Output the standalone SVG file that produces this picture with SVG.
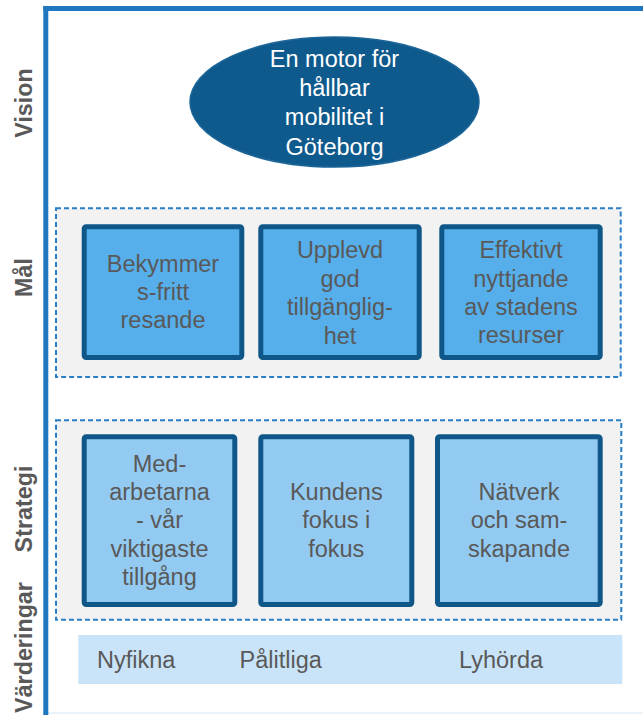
<svg xmlns="http://www.w3.org/2000/svg" width="643" height="715" viewBox="0 0 643 715">
<style>
.lbl{font-family:"Liberation Sans",Arial,sans-serif;font-weight:bold;font-size:23.3px;fill:#595959;text-anchor:middle}
.t{font-family:"Liberation Sans",Arial,sans-serif;font-size:23.5px;fill:#595959;text-anchor:middle}
.v{font-family:"Liberation Sans",Arial,sans-serif;font-size:23.5px;fill:#FFFFFF;text-anchor:middle}
.val{font-family:"Liberation Sans",Arial,sans-serif;font-size:23.5px;fill:#595959}
.dash{fill:#F2F2F2;stroke:#2A7FC4;stroke-width:2;stroke-dasharray:5 3}
.goal{fill:#56AFEB;stroke:#0E5788;stroke-width:5}
.strat{fill:#93CAF2;stroke:#0E5788;stroke-width:5}
</style>
<rect width="643" height="715" fill="#FFFFFF"/>
<g id="frame">
<line x1="48" y1="713" x2="643" y2="713" stroke="#E3EEF9" stroke-width="1.5"/>
<line x1="45.8" y1="6" x2="45.8" y2="715" stroke="#1F77BF" stroke-width="5"/>
<line x1="43.3" y1="8.5" x2="643" y2="8.5" stroke="#1F77BF" stroke-width="5"/>
</g>
<g id="row-labels">
<text class="lbl" transform="translate(31.5,103) rotate(-90)">Vision</text>
<text class="lbl" transform="translate(31.5,277.5) rotate(-90)">Mål</text>
<text class="lbl" transform="translate(31.5,509) rotate(-90)">Strategi</text>
<text class="lbl" transform="translate(31.5,647.5) rotate(-90)">Värderingar</text>
</g>
<g id="vision">
<ellipse cx="334.5" cy="102" rx="144.5" ry="65" fill="#0F5A8C" stroke="#1B6598" stroke-width="1.5"/>
<text class="v" x="334.5" y="66.7">En motor för</text>
<text class="v" x="334.5" y="96.2">hållbar</text>
<text class="v" x="334.5" y="125.2">mobilitet i</text>
<text class="v" x="334.5" y="154.7">Göteborg</text>
</g>
<g id="mal-group">
<rect class="dash" x="56" y="208.3" width="564.7" height="168.7"/>
</g>
<g id="mal-1">
<rect class="goal" x="84.2" y="226.8" width="157.6" height="130.7" rx="2"/>
<text class="t" x="163" y="271.7">Bekymmer</text>
<text class="t" x="163" y="300">s-fritt</text>
<text class="t" x="163" y="328.3">resande</text>
</g>
<g id="mal-2">
<rect class="goal" x="260.8" y="226.8" width="158.4" height="130.7" rx="2"/>
<text class="t" x="340" y="258.3">Upplevd</text>
<text class="t" x="340" y="286.7">god</text>
<text class="t" x="340" y="315">tillgänglig-</text>
<text class="t" x="340" y="343.5">het</text>
</g>
<g id="mal-3">
<rect class="goal" x="441.8" y="226.8" width="158.4" height="130.7" rx="2"/>
<text class="t" x="521" y="257.7">Effektivt</text>
<text class="t" x="521" y="286.5">nyttjande</text>
<text class="t" x="521" y="315">av stadens</text>
<text class="t" x="521" y="343.3">resurser</text>
</g>
<g id="strategi-group">
<rect class="dash" x="56" y="420.3" width="565.3" height="199.4"/>
</g>
<g id="strategi-1">
<rect class="strat" x="84.2" y="436.8" width="150.6" height="167.7" rx="2"/>
<text class="t" x="159.5" y="471.7">Med-</text>
<text class="t" x="159.5" y="500">arbetarna</text>
<text class="t" x="159.5" y="528.3">- vår</text>
<text class="t" x="159.5" y="556.7">viktigaste</text>
<text class="t" x="159.5" y="585">tillgång</text>
</g>
<g id="strategi-2">
<rect class="strat" x="260.8" y="436.8" width="151" height="167.7" rx="2"/>
<text class="t" x="336.3" y="500">Kundens</text>
<text class="t" x="336.3" y="528.3">fokus i</text>
<text class="t" x="336.3" y="556.7">fokus</text>
</g>
<g id="strategi-3">
<rect class="strat" x="437.5" y="436.8" width="162.7" height="167.7" rx="2"/>
<text class="t" x="519" y="500">Nätverk</text>
<text class="t" x="519" y="528.3">och sam-</text>
<text class="t" x="519" y="556.7">skapande</text>
</g>
<g id="varderingar">
<rect x="78.3" y="635" width="544" height="49" fill="#C9E4F8"/>
<text class="val" x="97" y="668.3">Nyfikna</text>
<text class="val" x="239.5" y="668.3">Pålitliga</text>
<text class="val" x="459" y="668.3">Lyhörda</text>
</g>
<g id="connectors"></g>
</svg>
